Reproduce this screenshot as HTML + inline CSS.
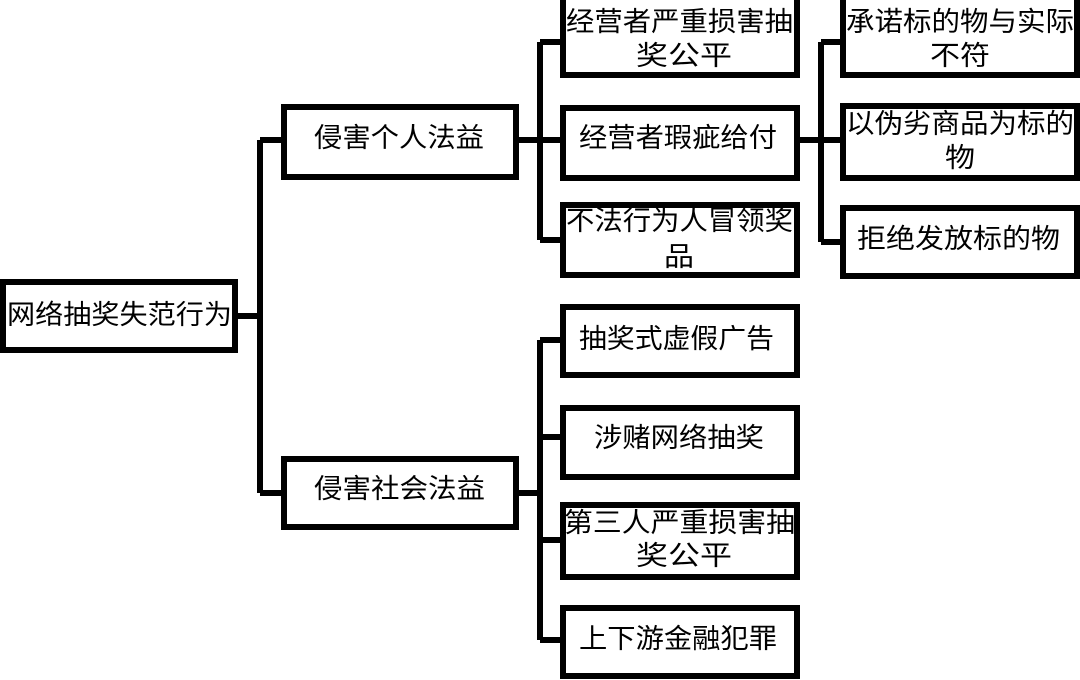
<!DOCTYPE html>
<html><head><meta charset="utf-8"><style>
html,body{margin:0;padding:0;background:#fff;}
svg{display:block;}
text{font-family:"Liberation Sans","Noto Sans CJK SC",sans-serif;font-size:27px;fill:#000;dominant-baseline:central;}
</style></head><body>
<svg width="1080" height="680" viewBox="0 0 1080 680" xmlns="http://www.w3.org/2000/svg">
<g fill="none" stroke="#000" stroke-width="6">
<rect x="3" y="282" width="232" height="68"/>
<rect x="284" y="107" width="232" height="70"/>
<rect x="284" y="459" width="232" height="68"/>
<rect x="563" y="-3" width="234" height="78"/>
<rect x="563" y="108" width="234" height="70"/>
<rect x="563" y="205" width="234" height="70"/>
<rect x="843" y="-3" width="234" height="78"/>
<rect x="843" y="106" width="234" height="72"/>
<rect x="843" y="208" width="234" height="68"/>
<rect x="563" y="307" width="234" height="68"/>
<rect x="563" y="408" width="234" height="69"/>
<rect x="563" y="505" width="234" height="72"/>
<rect x="563" y="608" width="234" height="68"/>
<path d="M235 316 H260 M260 140 V493 M260 140 H284 M260 493 H284"/>
<path d="M516 140 H563 M540 42 V240 M540 42 H563 M540 240 H563"/>
<path d="M797 140 H843 M821 42 V242 M821 42 H843 M821 242 H843"/>
<path d="M516 493 H540 M540 340 V640 M540 340 H563 M540 437 H563 M540 540 H563 M540 640 H563"/>
</g>
<text x="7" y="315" textLength="225" lengthAdjust="spacingAndGlyphs">网络抽奖失范行为</text>
<text x="314" y="138" textLength="170" lengthAdjust="spacingAndGlyphs">侵害个人法益</text>
<text x="314" y="489" textLength="171" lengthAdjust="spacingAndGlyphs">侵害社会法益</text>
<text x="566" y="22" textLength="227" lengthAdjust="spacingAndGlyphs">经营者严重损害抽</text>
<text x="636" y="56" textLength="96" lengthAdjust="spacingAndGlyphs">奖公平</text>
<text x="579" y="138" textLength="198" lengthAdjust="spacingAndGlyphs">经营者瑕疵给付</text>
<text x="566" y="221" textLength="227" lengthAdjust="spacingAndGlyphs">不法行为人冒领奖</text>
<text x="664" y="257" textLength="30" lengthAdjust="spacingAndGlyphs">品</text>
<text x="846" y="22" textLength="228" lengthAdjust="spacingAndGlyphs">承诺标的物与实际</text>
<text x="930" y="56" textLength="60" lengthAdjust="spacingAndGlyphs">不符</text>
<text x="846" y="124" textLength="228" lengthAdjust="spacingAndGlyphs">以伪劣商品为标的</text>
<text x="945" y="158" textLength="30" lengthAdjust="spacingAndGlyphs">物</text>
<text x="857" y="239" textLength="203" lengthAdjust="spacingAndGlyphs">拒绝发放标的物</text>
<text x="579" y="339" textLength="195" lengthAdjust="spacingAndGlyphs">抽奖式虚假广告</text>
<text x="594" y="438" textLength="170" lengthAdjust="spacingAndGlyphs">涉赌网络抽奖</text>
<text x="564" y="523" textLength="231" lengthAdjust="spacingAndGlyphs">第三人严重损害抽</text>
<text x="636" y="556" textLength="96" lengthAdjust="spacingAndGlyphs">奖公平</text>
<text x="579" y="639" textLength="198" lengthAdjust="spacingAndGlyphs">上下游金融犯罪</text>
</svg>
</body></html>
